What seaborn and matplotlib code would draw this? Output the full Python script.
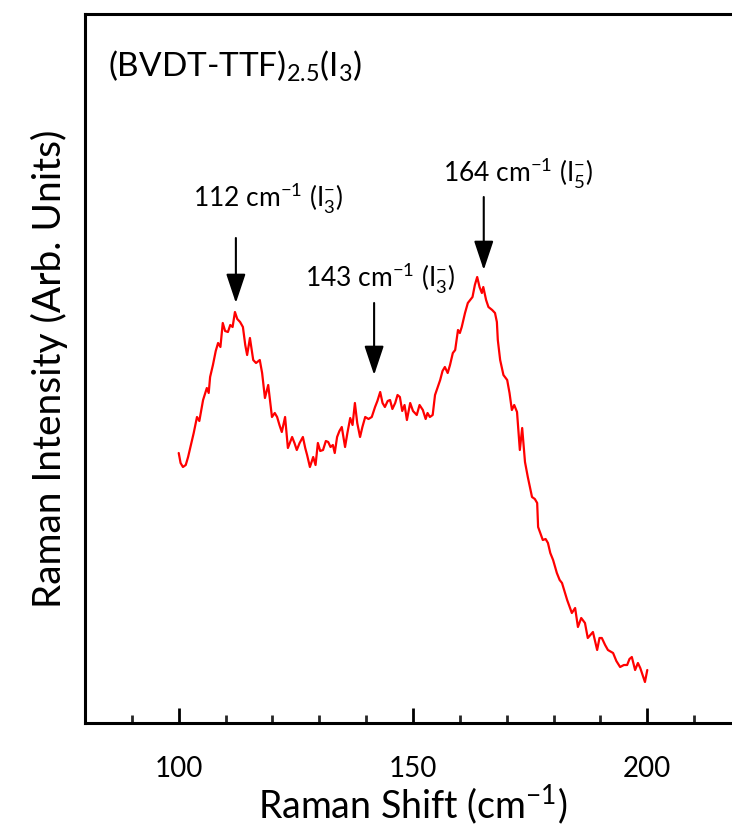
import matplotlib
matplotlib.use("Agg")
import matplotlib.pyplot as plt
import seaborn as sns
import pandas as pd

# Raman spectrum (x in cm^-1, intensity in arbitrary units)
shift = [100.0, 100.4, 100.9, 101.5, 102.0, 102.8, 103.2, 103.9, 104.4, 105.2,
         106.0, 106.4, 106.7, 107.3, 107.9, 108.4, 108.9, 109.4, 109.9, 110.5,
         111.0, 111.5, 112.0, 112.5, 113.1, 113.7, 114.2, 114.6, 115.2, 115.9,
         116.5, 117.3, 117.8, 118.4, 119.1, 119.9, 120.5, 121.0, 121.5, 122.0,
         122.7, 123.3, 124.2, 124.7, 125.2, 125.8, 126.5, 127.0, 127.4, 128.0,
         128.7, 129.2, 129.7, 130.2, 130.8, 131.4, 131.9, 132.4, 132.9, 133.3,
         133.8, 134.3, 134.8, 135.5, 136.0, 136.6, 137.1, 137.6, 138.1, 138.7,
         139.2, 139.8, 140.5, 141.2, 141.9, 142.4, 143.0, 143.5, 144.0, 144.6,
         145.1, 145.6, 146.2, 146.7, 147.2, 147.7, 148.2, 148.7, 149.4, 150.0,
         150.8, 151.4, 152.1, 152.7, 153.1, 153.6, 154.2, 154.7, 155.3, 155.8,
         156.3, 156.8, 157.4, 157.9, 158.5, 159.0, 159.6, 160.0, 160.4, 161.1,
         161.7, 162.2, 162.7, 163.2, 163.7, 164.2, 164.7, 165.0, 165.6, 166.1,
         166.9, 167.5, 167.9, 168.1, 168.6, 169.3, 170.1, 170.6, 171.1, 171.6,
         172.2, 172.8, 173.3, 173.9, 174.5, 175.4, 176.0, 176.5, 176.7, 177.7,
         178.3, 178.8, 179.3, 179.9, 180.7, 181.3, 181.8, 182.9, 183.9, 184.6,
         185.2, 185.9, 186.7, 187.3, 188.4, 189.3, 189.8, 190.3, 191.0, 191.6,
         192.7, 193.4, 194.2, 195.0, 195.7, 196.2, 196.7, 197.4, 198.0, 198.5,
         199.0, 199.5, 200.0]
intensity = [270, 260, 256, 258, 266, 282, 290, 306, 302, 323,
             335, 330, 346, 358, 372, 380, 376, 400, 392, 391,
             398, 396, 411, 404, 401, 396, 378, 368, 385, 363,
             360, 363, 350, 325, 338, 306, 310, 306, 298, 291,
             306, 275, 286, 280, 273, 280, 286, 275, 268, 256,
             266, 258, 280, 272, 273, 282, 281, 276, 278, 270,
             286, 292, 296, 276, 290, 305, 298, 320, 300, 286,
             296, 306, 304, 306, 316, 322, 331, 320, 316, 322,
             323, 314, 320, 328, 326, 312, 318, 303, 320, 312,
             308, 318, 313, 304, 310, 306, 308, 328, 336, 343,
             352, 356, 350, 358, 370, 373, 393, 390, 396, 410,
             420, 423, 426, 438, 446, 436, 430, 436, 423, 416,
             413, 410, 401, 383, 363, 348, 343, 330, 313, 318,
             311, 273, 295, 261, 246, 226, 224, 220, 196, 183,
             184, 180, 170, 163, 150, 143, 140, 123, 110, 115,
             96, 105, 100, 85, 91, 73, 85, 85, 78, 73,
             70, 62, 56, 58, 58, 64, 66, 53, 60, 55,
             48, 41, 53]

# peak markers: (arrow x, tail, tip), label text and its anchor
arrow_x = [112.2, 141.7, 165.1]
arrow_tail = [485, 420, 526]
arrow_tip = [420, 348, 453]
peak_labels = [r"112 cm$^{-1}$ (I$_3^{-}$)", r"143 cm$^{-1}$ (I$_3^{-}$)", r"164 cm$^{-1}$ (I$_5^{-}$)"]
label_x = [103.0, 126.9, 156.4]
label_y = [516, 436, 541]

df = pd.DataFrame({"shift": shift, "intensity": intensity})

sns.set_theme(style="white")
plt.rcParams["font.family"] = ["Lato", "DejaVu Sans"]
plt.rcParams["mathtext.fontset"] = "custom"
plt.rcParams["mathtext.rm"] = "Lato"
plt.rcParams["mathtext.it"] = "Lato"
plt.rcParams["mathtext.bf"] = "Lato:bold"

fig = plt.figure(figsize=(7.32, 8.27), dpi=100)
ax = fig.add_axes([85 / 732, 104 / 827, 656 / 732, 709 / 827])

sns.lineplot(data=df, x="shift", y="intensity", ax=ax, color="red",
             linewidth=1.6, sort=False, estimator=None)

ax.set_xlim(80, 220)
ax.set_ylim(0, 709)
ax.set_xticks([100, 150, 200])
ax.set_xticks(range(90, 220, 10), minor=True)
ax.set_yticks([])
ax.tick_params(axis="x", which="major", direction="in", length=11, width=2,
               labelsize=20, pad=24, colors="black")
ax.tick_params(axis="x", which="minor", direction="in", length=6, width=2)
ax.tick_params(axis="x", which="both", top=False, bottom=True)
for side in ["left", "bottom", "top", "right"]:
    ax.spines[side].set_linewidth(2.2)
    ax.spines[side].set_color("black")

ax.set_xlabel(r"Raman Shift (cm$^{-1}$)", fontsize=27, labelpad=0, color="black")
ax.set_ylabel("Raman Intensity (Arb. Units)", fontsize=28, labelpad=12, color="black")

ax.text(84.9, 646, r"(BVDT-TTF)$_{2.5}$(I$_3$)", fontsize=24, va="baseline", color="black")

for x0, t0, t1, lab, lx, ly in zip(arrow_x, arrow_tail, arrow_tip, peak_labels, label_x, label_y):
    ax.annotate("", xy=(x0, t1), xytext=(x0, t0),
                arrowprops=dict(arrowstyle="-|>,head_length=0.9,head_width=0.3",
                                color="black", lw=1.5, mutation_scale=20,
                                shrinkA=0, shrinkB=0))
    ax.text(lx, ly, lab, fontsize=19, va="baseline", color="black")

fig.savefig("out.png", dpi=100)
